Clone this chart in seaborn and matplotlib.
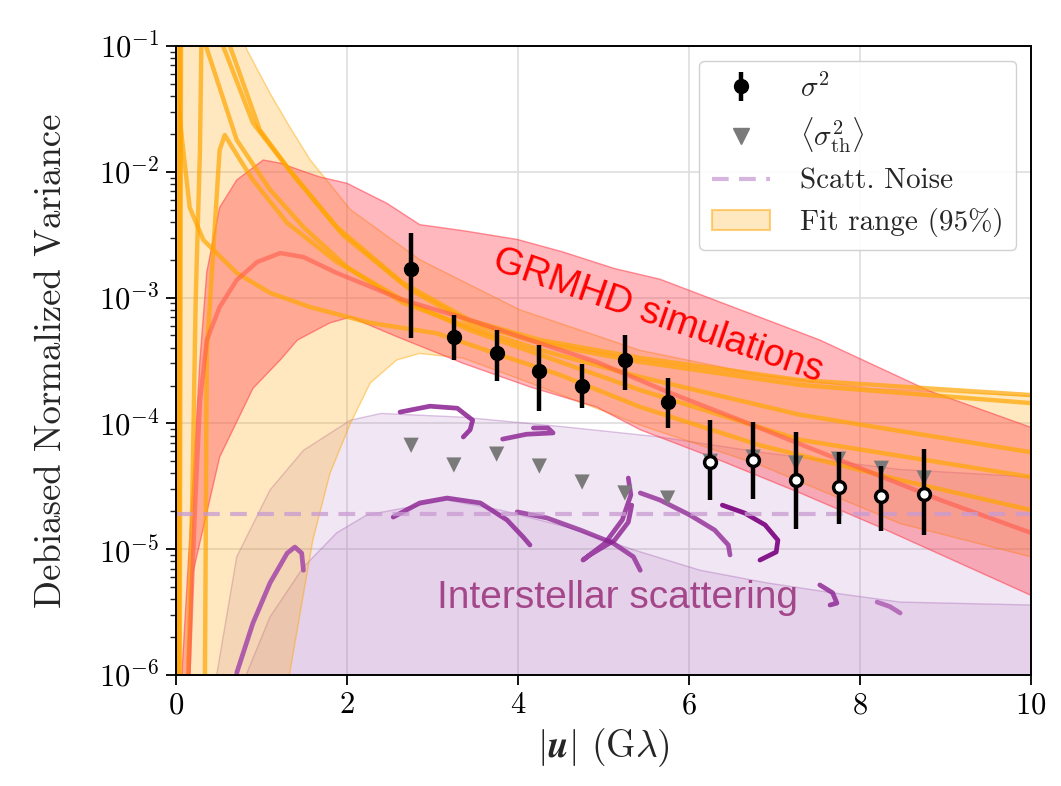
import numpy as np
import matplotlib
matplotlib.use("Agg")
import matplotlib.pyplot as plt
import seaborn as sns
from matplotlib.lines import Line2D
from matplotlib.patches import Patch
from matplotlib.colors import to_rgba
from matplotlib.ticker import NullLocator, LogLocator

# ---------------- data ----------------
# measured debiased normalized variance (sigma^2) with error bars
sig_x = [2.75, 3.25, 3.75, 4.25, 4.75, 5.25, 5.75, 6.25, 6.75, 7.25, 7.75, 8.25, 8.75]
sig_v = [1.69e-3, 4.86e-4, 3.63e-4, 2.61e-4, 1.98e-4, 3.19e-4, 1.48e-4,
         4.93e-5, 5.12e-5, 3.55e-5, 3.12e-5, 2.65e-5, 2.75e-5]
sig_hi = [3.27e-3, 7.3e-4, 5.5e-4, 4.2e-4, 2.97e-4, 5.05e-4, 2.3e-4,
          1.06e-4, 1.03e-4, 8.5e-5, 5.9e-5, 4.6e-5, 6.27e-5]
sig_lo = [4.78e-4, 3.19e-4, 2.17e-4, 1.26e-4, 1.33e-4, 1.84e-4, 9.2e-5,
          2.46e-5, 2.5e-5, 1.45e-5, 1.59e-5, 1.40e-5, 1.30e-5]
n_filled = 7  # first 7 points drawn filled, remaining open

# thermal noise expectation <sigma_th^2>
th_v = [6.7e-5, 4.67e-5, 5.7e-5, 4.58e-5, 3.42e-5, 2.8e-5, 2.55e-5,
        5.0e-5, 5.4e-5, 4.84e-5, 5.2e-5, 4.4e-5, 3.68e-5]

scatt_noise = 1.9e-5

# GRMHD simulations band
grmhd_up_x = [0.06, 0.28, 0.36, 0.51, 0.71, 1.02, 1.22, 1.45, 1.68, 2.00, 2.47, 2.85,
              3.36, 3.99, 4.53, 5.13, 5.66, 6.60, 7.53, 8.82, 10.0]
grmhd_up_v = [8e-7, 3.2e-4, 1.6e-3, 5.2e-3, 8.6e-3, 1.24e-2, 1.17e-2, 1.03e-2, 9.1e-3,
              8.1e-3, 5.6e-3, 3.8e-3, 3.4e-3, 2.9e-3, 2.3e-3, 1.7e-3, 1.4e-3, 8.0e-4,
              4.6e-4, 1.8e-4, 9.3e-5]
grmhd_lo_x = [0.16, 0.20, 0.51, 0.90, 1.22, 1.42, 1.80, 2.04, 2.58, 3.36, 4.14, 4.92,
              5.43, 6.36, 7.30, 8.23, 10.0]
grmhd_lo_v = [8e-7, 6.6e-6, 5.4e-5, 1.9e-4, 3.2e-4, 4.6e-4, 6.3e-4, 7.0e-4, 4.9e-4,
              3.0e-4, 1.95e-4, 1.35e-4, 8.9e-5, 5.1e-5, 2.8e-5, 1.5e-5, 4.3e-6]
grmhd_med_x = [0.14, 0.22, 0.28, 0.36, 0.51, 0.71, 0.95, 1.22, 1.49, 1.88, 2.65, 3.36,
               4.14, 4.92, 5.75, 6.60, 7.77, 8.94, 10.0]
grmhd_med_v = [8e-7, 2.0e-5, 1.5e-4, 4.6e-4, 8.4e-4, 1.38e-3, 1.92e-3, 2.26e-3, 2.10e-3,
               1.57e-3, 9.6e-4, 6.9e-4, 4.6e-4, 3.08e-4, 1.78e-4, 1.06e-4, 5.1e-5,
               2.46e-5, 1.35e-5]

# fit range (95%) band
fit_up_x = [0.0, 0.6, 0.83, 1.10, 1.33, 1.57, 2.04, 2.85, 4.02, 5.43, 6.83, 8.12, 10.0]
fit_up_v = [1.0, 0.3, 9.3e-2, 4.2e-2, 2.27e-2, 1.24e-2, 5.0e-3, 2.0e-3, 8.0e-4, 3.8e-4,
            2.43e-4, 1.9e-4, 1.65e-4]
fit_lo_x = [0.0, 1.30, 1.33, 1.60, 1.80, 2.04, 2.27, 2.58, 2.85, 3.36, 4.14, 5.43,
            6.83, 8.47, 10.0]
fit_lo_v = [1e-8, 5e-7, 1.04e-6, 1.18e-5, 4.0e-5, 1.0e-4, 2.09e-4, 3.19e-4, 3.6e-4,
            3.3e-4, 2.1e-4, 9.7e-5, 4.67e-5, 1.6e-5, 8.7e-6]

# individual fits
fit_a_x = [0.005, 0.010, 0.015, 0.16, 0.32, 0.71, 1.10, 1.57, 2.27, 3.05, 3.79, 4.49,
           5.43, 6.83, 8.47, 10.0]
fit_a_v = [1e-7, 0.5, 3.9e-2, 5.2e-3, 2.87e-3, 1.57e-3, 1.09e-3, 8.4e-4, 6.3e-4, 5.2e-4,
           3.5e-4, 2.43e-4, 1.35e-4, 6.7e-5, 3.55e-5, 2.05e-5]
fit_b_x = [0.14, 0.19, 0.23, 0.28, 0.30, 0.35, 0.71, 1.10, 1.49, 2.00, 2.65, 3.44, 4.26,
           5.43, 7.30, 10.0]
fit_b_v = [1.0e-6, 2.46e-5, 9.6e-4, 1.49e-2, 0.15, 0.1, 1.79e-2, 7.2e-3, 3.64e-3,
           1.75e-3, 9.1e-4, 5.8e-4, 3.83e-4, 2.34e-4, 1.17e-4, 5.9e-5]
fit_c_x = [0.03, 0.05, 0.30, 0.55, 0.90, 1.30, 1.88, 2.65, 3.44, 4.26, 5.43, 7.30, 10.0]
fit_c_v = [1e-7, 0.3, 0.5, 0.1, 2.44e-2, 1.09e-2, 3.64e-3, 1.31e-3, 6.6e-4, 4.6e-4,
           3.31e-4, 2.21e-4, 1.68e-4]
fit_d_x = [0.33, 0.36, 0.51, 0.57, 0.75, 0.90, 1.30, 1.88, 2.65, 3.44, 4.26, 5.43,
           7.30, 10.0]
fit_d_v = [1e-7, 3.63e-4, 1.49e-2, 1.96e-2, 1.24e-2, 8.6e-3, 3.92e-3, 1.92e-3, 9.6e-4,
           5.5e-4, 3.5e-4, 1.84e-4, 7.4e-5, 3.75e-5]
fit_f_x = [0.04, 0.06, 0.30, 0.63, 0.98, 1.37, 1.95, 2.74, 3.44, 4.26, 5.43, 7.30, 10.0]
fit_f_v = [1e-7, 0.3, 0.5, 0.1, 2.15e-2, 9.4e-3, 3.15e-3, 1.15e-3, 6.3e-4, 4.35e-4,
           3.08e-4, 2.02e-4, 1.45e-4]

# interstellar scattering bands (upper edges)
scat_wide_x = [0.45, 0.48, 0.71, 1.10, 1.49, 2.04, 2.40, 3.36, 4.53, 5.66, 6.83, 8.47, 10.0]
scat_wide_v = [7e-7, 1.04e-6, 8.7e-6, 2.96e-5, 6.1e-5, 1.06e-4, 1.2e-4, 1.12e-4, 9.4e-5,
               7.8e-5, 5.9e-5, 4.3e-5, 3.75e-5]
scat_in_x = [0.80, 0.83, 1.10, 1.49, 1.88, 2.23, 2.85, 3.17, 3.79, 4.57, 5.35, 6.13,
             6.91, 7.68, 8.47, 10.0]
scat_in_v = [7e-7, 1.04e-6, 2.9e-6, 7.2e-6, 1.35e-5, 1.87e-5, 2.24e-5, 2.46e-5, 2.05e-5,
             1.5e-5, 9.9e-6, 6.8e-6, 5.4e-6, 4.5e-6, 3.8e-6, 3.6e-6]

# scattering realisations (squiggles)
scr1_x = [0.71, 0.90, 1.10, 1.30, 1.39, 1.47, 1.49]
scr1_v = [1.04e-6, 2.59e-6, 5.4e-6, 9.3e-6, 1.04e-5, 9.3e-6, 6.8e-6]
scr2_x = [2.62, 2.97, 3.29, 3.47, 3.44, 3.36]
scr2_v = [1.23e-4, 1.37e-4, 1.32e-4, 1.06e-4, 8.9e-5, 7.8e-5]
scr3_x = [3.82, 4.10, 4.41, 4.35, 4.18]
scr3_v = [7.5e-5, 8.2e-5, 8.4e-5, 9.2e-5, 9.2e-5]
scr4_x = [2.54, 2.85, 3.17, 3.56, 3.87, 4.06, 4.14]
scr4_v = [1.80e-5, 2.33e-5, 2.55e-5, 2.33e-5, 1.71e-5, 1.25e-5, 1.08e-5]
scr5_x = [3.99, 4.34, 4.73, 5.11, 5.35, 5.43]
scr5_v = [1.98e-5, 1.77e-5, 1.42e-5, 1.12e-5, 8.7e-6, 6.8e-6]
scr6_x = [5.29, 5.32, 5.22, 5.02, 4.76, 4.84, 5.13, 5.29, 5.33]
scr6_v = [3.68e-5, 2.70e-5, 1.71e-5, 1.12e-5, 8.2e-6, 9.0e-6, 1.18e-5, 1.64e-5, 2.24e-5]
scr7_x = [5.43, 5.66, 6.01, 6.30, 6.46, 6.48]
scr7_v = [2.80e-5, 2.46e-5, 1.87e-5, 1.42e-5, 1.08e-5, 9.0e-6]
scr8_x = [6.39, 6.65, 6.89, 7.04, 7.02, 6.83]
scr8_v = [2.24e-5, 1.94e-5, 1.56e-5, 1.18e-5, 9.5e-6, 8.2e-6]
scr9_x = [7.53, 7.68, 7.73, 7.65]
scr9_v = [5.2e-6, 4.5e-6, 3.73e-6, 3.6e-6]
scr10_x = [8.20, 8.35, 8.47]
scr10_v = [3.80e-6, 3.5e-6, 3.11e-6]

# ---------------- style ----------------
sns.set_theme(style="whitegrid")
plt.rcParams["font.family"] = ["cmr10", "DejaVu Serif"]
plt.rcParams["mathtext.fontset"] = "cm"
plt.rcParams["axes.formatter.use_mathtext"] = True
plt.rcParams["axes.unicode_minus"] = False

fig = plt.figure(figsize=(10.61, 7.86), dpi=100)
fig.patch.set_facecolor("white")
ax = fig.add_axes([0.1659, 0.1412, 0.8058, 0.8003])
ax.set_yscale("log")
ax.set_xlim(0, 10)
ax.set_ylim(1e-6, 1e-1)
ax.set_facecolor("white")
ax.set_axisbelow(True)
ax.grid(True, which="major", color="#dedede", lw=1.2)
ax.grid(False, which="minor")

FLOOR = 1e-8
PURPLE = "#a15db5"
ORANGE = "#ffa500"
RED = "#ff3b4a"


def band(ux, uv, lx, lv, color, alpha, ealpha, elw=1.0, z=1):
    px = list(ux) + list(lx)[::-1]
    py = list(uv) + list(lv)[::-1]
    ax.fill(px, py, facecolor=to_rgba(color, alpha),
            edgecolor=to_rgba(color, ealpha), lw=elw, zorder=z)


# scattering bands
band(scat_wide_x, scat_wide_v, [scat_wide_x[0], scat_wide_x[-1]], [FLOOR, FLOOR],
     PURPLE, 0.15, 0.35, 1.0, 1.0)
band(scat_in_x, scat_in_v, [scat_in_x[0], scat_in_x[-1]], [FLOOR, FLOOR],
     PURPLE, 0.15, 0.35, 1.0, 1.1)
# fit range band
band(fit_up_x, fit_up_v, fit_lo_x, fit_lo_v, ORANGE, 0.25, 0.45, 1.0, 1.2)
# GRMHD band
band(grmhd_up_x, grmhd_up_v, grmhd_lo_x, grmhd_lo_v, RED, 0.36, 0.55, 1.0, 1.3)

# individual fits
for fx, fv in [(fit_a_x, fit_a_v), (fit_b_x, fit_b_v), (fit_c_x, fit_c_v),
               (fit_d_x, fit_d_v), (fit_f_x, fit_f_v)]:
    sns.lineplot(x=fx, y=fv, sort=False, estimator=None, color=ORANGE, lw=3.2,
                 alpha=0.7, ax=ax, zorder=2)
sns.lineplot(x=grmhd_med_x, y=grmhd_med_v, sort=False, estimator=None, color="#ff5a4a",
             lw=3.2, alpha=0.6, ax=ax, zorder=2.1)

# scattering squiggles
scribbles = [(scr1_x, scr1_v, "#a347a8", 0.85), (scr2_x, scr2_v, "#8a1f92", 0.85),
             (scr3_x, scr3_v, "#8a1f92", 0.8), (scr4_x, scr4_v, "#8a1f92", 0.8),
             (scr5_x, scr5_v, "#8a1f92", 0.75), (scr6_x, scr6_v, "#8a1f92", 0.8),
             (scr7_x, scr7_v, "#8a1f92", 0.75), (scr8_x, scr8_v, "#7a007f", 0.9),
             (scr9_x, scr9_v, "#8a1f92", 0.8), (scr10_x, scr10_v, "#a347a8", 0.7)]
for sx_, sv_, c, a in scribbles:
    sns.lineplot(x=sx_, y=sv_, sort=False, estimator=None, color=c, lw=3.4, alpha=a,
                 ax=ax, zorder=3)

# scattering noise level
noise_color = "#c89bd2"
ax.axhline(scatt_noise, color=noise_color, lw=3, alpha=0.75, ls=(0, (4, 2.5)), zorder=3.2)

# thermal noise triangles
sns.scatterplot(x=sig_x, y=th_v, marker="v", s=120, color="#7a7a7a", edgecolor="none",
                ax=ax, zorder=4, legend=False)

# measurements
sx = np.array(sig_x)
sv = np.array(sig_v)
yerr = np.vstack([sv - np.array(sig_lo), np.array(sig_hi) - sv])
eb = ax.errorbar(sx[:n_filled], sv[:n_filled], yerr=yerr[:, :n_filled], fmt="o",
                 color="black", ms=10, elinewidth=3.2, capsize=0, zorder=5)
ax.errorbar(sx[n_filled:], sv[n_filled:], yerr=yerr[:, n_filled:], fmt="o",
            color="black", mfc="white", mec="black", mew=2.5, ms=8.5, elinewidth=3.2,
            capsize=0, zorder=5)

# annotations
ax.text(5.64, 7.1e-4, "GRMHD simulations", rotation=-19, rotation_mode="anchor",
        ha="center", va="center", color="#ff0000", fontsize=27.5,
        family=["Liberation Sans", "DejaVu Sans"], zorder=6)
ax.text(5.16, 4.1e-6, "Interstellar scattering", ha="center", va="center",
        color="#a3478a", fontsize=28, family=["Liberation Sans", "DejaVu Sans"], zorder=6)

# axes cosmetics
for sp in ax.spines.values():
    sp.set_color("black")
    sp.set_linewidth(1.4)
    sp.set_zorder(7)
ax.set_xticks([0, 2, 4, 6, 8, 10])
ax.xaxis.set_minor_locator(NullLocator())
ax.yaxis.set_major_locator(LogLocator(base=10, numticks=10))
ax.yaxis.set_minor_locator(LogLocator(base=10, subs=np.arange(2, 10), numticks=20))
ax.tick_params(axis="both", which="major", direction="out", length=7, width=1.3,
               bottom=True, left=True, labelsize=22, colors="black", pad=5)
ax.tick_params(axis="y", which="minor", direction="out", length=4, width=1.0, left=True)
ax.set_xlabel(r"$|\mathbfit{u}|$ (G$\lambda$)", fontsize=27, labelpad=5)
ax.set_ylabel("Debiased Normalized Variance", fontsize=26.5, labelpad=22)

# legend
handles = [eb,
           Line2D([], [], ls="none", marker="v", ms=11, color="#7a7a7a"),
           Line2D([], [], color=noise_color, lw=3, alpha=0.75, ls=(0, (4, 2.5))),
           Patch(facecolor=to_rgba(ORANGE, 0.25), edgecolor=to_rgba(ORANGE, 0.5), lw=1.5)]
labels = [r"$\sigma^2$", r"$\langle\sigma^2_{\rm th}\rangle$", "Scatt. Noise",
          "Fit range (95%)"]
leg = ax.legend(handles, labels, loc="upper right", fontsize=21, frameon=True,
                fancybox=True, framealpha=0.9, edgecolor="#cccccc", handlelength=2.0,
                borderpad=0.45, labelspacing=0.45, handletextpad=1.0)
leg.set_zorder(10)

fig.savefig("out.png", dpi=100, facecolor="white")
